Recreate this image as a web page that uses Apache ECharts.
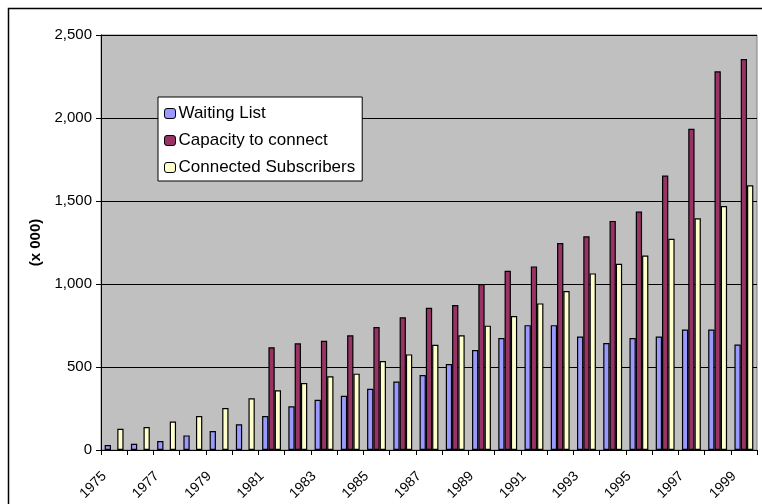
<!DOCTYPE html>
<html>
<head>
<meta charset="utf-8">
<script src="https://cdn.jsdelivr.net/npm/echarts@6/dist/echarts.min.js"></script>
<style>
html,body{margin:0;padding:0;background:#fff;}
#chart{width:762px;height:504px;}
</style>
</head>
<body>
<div id="chart"></div>
<script>
var years = ['1975','1976','1977','1978','1979','1980','1981','1982','1983','1984','1985','1986','1987','1988','1989','1990','1991','1992','1993','1994','1995','1996','1997','1998','1999'];
var waitingList = [30, 38, 54, 88, 114, 155, 205, 263, 303, 327, 369, 412, 452, 518, 602, 675, 752, 752, 684, 644, 674, 684, 726, 726, 635];
var capacityToConnect = [null, null, null, null, null, null, 619, 643, 658, 691, 741, 799, 857, 873, 1000, 1080, 1106, 1247, 1287, 1380, 1436, 1653, 1935, 2281, 2355];
var connectedSubscribers = [128, 139, 171, 205, 253, 311, 360, 403, 444, 460, 536, 576, 634, 691, 749, 807, 883, 958, 1064, 1122, 1172, 1273, 1396, 1470, 1595];
var seriesNames = ['Waiting List', 'Capacity to connect', 'Connected Subscribers'];
var yTicks = [0, 500, 1000, 1500, 2000, 2500];

var chart = echarts.init(document.getElementById('chart'), null, {renderer: 'canvas'});
var font = 'Arial, "Liberation Sans", sans-serif';
function barSeries(name, data, color) {
  return {
    name: name, type: 'bar', data: data,
    barGap: '0%', barWidth: '24%',
    itemStyle: {color: color, borderColor: '#000', borderWidth: 1.2},
    emphasis: {disabled: true},
    animation: false
  };
}
chart.setOption({
  animation: false,
  graphic: [{
    type: 'rect', z: -10,
    shape: {x: 8.5, y: 8.5, width: 800, height: 600},
    style: {fill: 'none', stroke: '#000', lineWidth: 1.5}
  }],
  grid: {left: 101, top: 35, right: 5, bottom: 54, show: true, backgroundColor: '#C0C0C0', borderColor: '#808080', borderWidth: 1},
  legend: {
    orient: 'vertical', left: 158, top: 97,
    data: seriesNames,
    backgroundColor: '#fff', borderColor: '#000', borderWidth: 1,
    padding: [8, 7, 5, 6],
    itemWidth: 11, itemHeight: 10, itemGap: 10,
    textStyle: {fontFamily: font, fontSize: 17, color: '#000', padding: [0, 0, 0, -2]},
    itemStyle: {borderColor: '#000', borderWidth: 1},
    selectedMode: false
  },
  xAxis: {
    type: 'category', data: years,
    axisLine: {lineStyle: {color: '#000', width: 1}},
    axisTick: {show: true, interval: 0, length: 5, lineStyle: {color: '#000'}},
    axisLabel: {interval: 1, rotate: 45, margin: 14, padding: [0, 14, 0, 0], fontFamily: font, fontSize: 14, color: '#000'}
  },
  yAxis: {
    type: 'value', min: yTicks[0], max: yTicks[yTicks.length - 1], interval: 500,
    name: '(x 000)', nameLocation: 'middle', nameGap: 57, nameRotate: 90,
    nameTextStyle: {fontFamily: font, fontSize: 15, fontWeight: 'bold', color: '#000'},
    axisLine: {show: true, lineStyle: {color: '#000', width: 1}},
    axisTick: {show: true, inside: false, length: 5, lineStyle: {color: '#000'}},
    axisLabel: {margin: 9, fontFamily: font, fontSize: 15, color: '#000',
      formatter: function (v) { return v.toLocaleString('en-US'); }},
    splitLine: {show: true, lineStyle: {color: '#000', width: 1}}
  },
  series: [
    barSeries(seriesNames[0], waitingList, '#9999FF'),
    barSeries(seriesNames[1], capacityToConnect, '#993366'),
    barSeries(seriesNames[2], connectedSubscribers, '#FFFFCC')
  ]
});
</script>
</body>
</html>
